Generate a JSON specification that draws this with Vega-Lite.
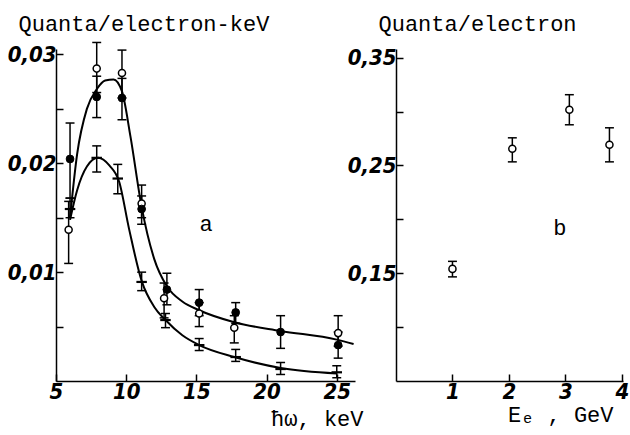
{
  "$schema": "https://vega.github.io/schema/vega-lite/v6.json",
  "background": "white",
  "padding": {"left": 7, "top": 12, "right": 5, "bottom": 40},
  "spacing": 41,
  "bounds": "flush",
  "datasets": {
    "curves": [
      {"curve": "upper", "x": 6.0, "y": 0.0150},
      {"curve": "upper", "x": 6.5, "y": 0.0208},
      {"curve": "upper", "x": 7.2, "y": 0.0250},
      {"curve": "upper", "x": 7.9, "y": 0.0268},
      {"curve": "upper", "x": 8.5, "y": 0.0276},
      {"curve": "upper", "x": 9.1, "y": 0.0277},
      {"curve": "upper", "x": 9.7, "y": 0.0266},
      {"curve": "upper", "x": 10.3, "y": 0.0225},
      {"curve": "upper", "x": 11.1, "y": 0.0160},
      {"curve": "upper", "x": 12.0, "y": 0.0112},
      {"curve": "upper", "x": 12.9, "y": 0.0087},
      {"curve": "upper", "x": 14.0, "y": 0.0073},
      {"curve": "upper", "x": 15.2, "y": 0.0065},
      {"curve": "upper", "x": 17.7, "y": 0.0054},
      {"curve": "upper", "x": 21.0, "y": 0.0046},
      {"curve": "upper", "x": 25.0, "y": 0.0038},
      {"curve": "upper", "x": 26.2, "y": 0.0034},
      {"curve": "lower", "x": 6.0, "y": 0.0148},
      {"curve": "lower", "x": 6.5, "y": 0.0175},
      {"curve": "lower", "x": 7.2, "y": 0.0197},
      {"curve": "lower", "x": 8.0, "y": 0.0205},
      {"curve": "lower", "x": 8.8, "y": 0.0198},
      {"curve": "lower", "x": 9.5, "y": 0.0183},
      {"curve": "lower", "x": 10.2, "y": 0.0140},
      {"curve": "lower", "x": 11.1, "y": 0.0092},
      {"curve": "lower", "x": 12.0, "y": 0.0068},
      {"curve": "lower", "x": 12.8, "y": 0.0056},
      {"curve": "lower", "x": 14.0, "y": 0.0042},
      {"curve": "lower", "x": 15.2, "y": 0.0033},
      {"curve": "lower", "x": 17.7, "y": 0.0022},
      {"curve": "lower", "x": 21.0, "y": 0.0012},
      {"curve": "lower", "x": 25.0, "y": 0.0007}
    ],
    "pointsA": [
      {"series": "filled", "x": 6.0, "y": 0.0204, "lo": 0.0168, "hi": 0.0237},
      {"series": "filled", "x": 7.9, "y": 0.0261, "lo": 0.0242, "hi": 0.0280},
      {"series": "filled", "x": 9.7, "y": 0.0260, "lo": 0.0240, "hi": 0.0278},
      {"series": "filled", "x": 11.1, "y": 0.0158, "lo": 0.0144, "hi": 0.0170},
      {"series": "filled", "x": 12.9, "y": 0.0084, "lo": 0.0070, "hi": 0.0099},
      {"series": "filled", "x": 15.2, "y": 0.0072, "lo": 0.0060, "hi": 0.0084},
      {"series": "filled", "x": 17.8, "y": 0.0063, "lo": 0.0053, "hi": 0.0072},
      {"series": "filled", "x": 21.0, "y": 0.0045, "lo": 0.0030, "hi": 0.0060},
      {"series": "filled", "x": 25.1, "y": 0.0033, "lo": 0.0021, "hi": 0.0045},
      {"series": "open", "x": 5.9, "y": 0.0139, "lo": 0.0108, "hi": 0.0165},
      {"series": "open", "x": 7.9, "y": 0.0287, "lo": 0.0265, "hi": 0.0311},
      {"series": "open", "x": 9.7, "y": 0.0283, "lo": 0.0260, "hi": 0.0304},
      {"series": "open", "x": 11.1, "y": 0.0163, "lo": 0.0150, "hi": 0.0180},
      {"series": "open", "x": 12.7, "y": 0.0076, "lo": 0.0058, "hi": 0.0090},
      {"series": "open", "x": 15.2, "y": 0.0062, "lo": 0.0050, "hi": 0.0072},
      {"series": "open", "x": 17.7, "y": 0.0049, "lo": 0.0035, "hi": 0.0060},
      {"series": "open", "x": 25.1, "y": 0.0044, "lo": 0.0032, "hi": 0.0060},
      {"series": "cross", "x": 6.0, "y": 0.0158, "lo": 0.0150, "hi": 0.0168},
      {"series": "cross", "x": 7.9, "y": 0.0205, "lo": 0.0192, "hi": 0.0216},
      {"series": "cross", "x": 9.4, "y": 0.0186, "lo": 0.0172, "hi": 0.0199},
      {"series": "cross", "x": 11.1, "y": 0.0091, "lo": 0.0083, "hi": 0.0100},
      {"series": "cross", "x": 12.8, "y": 0.0056, "lo": 0.0049, "hi": 0.0062},
      {"series": "cross", "x": 15.2, "y": 0.0033, "lo": 0.0028, "hi": 0.0039},
      {"series": "cross", "x": 17.8, "y": 0.0022, "lo": 0.0018, "hi": 0.0029},
      {"series": "cross", "x": 21.0, "y": 0.0011, "lo": 0.0006, "hi": 0.0017},
      {"series": "cross", "x": 25.0, "y": 0.0008, "lo": 0.0003, "hi": 0.0014}
    ],
    "pointsB": [
      {"x": 1.0, "y": 0.154, "lo": 0.1466, "hi": 0.161},
      {"x": 2.06, "y": 0.2654, "lo": 0.2533, "hi": 0.2756},
      {"x": 3.07, "y": 0.3016, "lo": 0.2877, "hi": 0.3156},
      {"x": 3.78, "y": 0.2691, "lo": 0.2533, "hi": 0.2849}
    ],
    "labelA": [{"x": 15.7, "y": 0.0144, "label": "a"}],
    "labelB": [{"x": 2.9, "y": 0.192, "label": "b"}]
  },
  "hconcat": [
    {
      "width": 299,
      "height": 332,
      "encoding": {
        "x": {"field": "x", "type": "quantitative", "scale": {"domain": [5, 26.3], "nice": false, "zero": false},
          "axis": {"values": [5, 10, 15, 20, 25], "format": "d", "title": "ħω, keV", "titleAngle": 0, "titleAlign": "right", "titleBaseline": "alphabetic", "titleX": 307, "titleY": 44}},
        "y": {"field": "y", "type": "quantitative", "scale": {"domain": [0, 0.0305], "nice": false, "zero": false},
          "axis": {"values": [0.005, 0.01, 0.015, 0.02, 0.025, 0.03], "labelExpr": "round(datum.value*1000) % 10 == 0 ? replace(format(datum.value, '.2f'), '.', ',') : ''", "title": "Quanta/electron-keV", "titleAngle": 0, "titleAlign": "left", "titleBaseline": "alphabetic", "titleX": -38, "titleY": -19}}
      },
      "layer": [
        {"data": {"name": "curves"}, "mark": {"type": "line", "interpolate": "monotone", "color": "black", "strokeWidth": 2}, "encoding": {"detail": {"field": "curve"}}},
        {"data": {"name": "pointsA"}, "mark": {"type": "rule", "color": "black", "strokeWidth": 1.5}, "encoding": {"y": {"field": "lo", "type": "quantitative"}, "y2": {"field": "hi"}}},
        {"data": {"name": "pointsA"}, "mark": {"type": "point", "shape": "M-1,0H1", "size": 80, "stroke": "black", "strokeWidth": 1.5, "opacity": 1}, "encoding": {"y": {"field": "lo", "type": "quantitative"}}},
        {"data": {"name": "pointsA"}, "mark": {"type": "point", "shape": "M-1,0H1", "size": 80, "stroke": "black", "strokeWidth": 1.5, "opacity": 1}, "encoding": {"y": {"field": "hi", "type": "quantitative"}}},
        {"data": {"name": "pointsA"}, "transform": [{"filter": "datum.series == 'cross'"}], "mark": {"type": "point", "shape": "M-1,0H1", "size": 110, "stroke": "black", "strokeWidth": 2.2, "opacity": 1}},
        {"data": {"name": "pointsA"}, "transform": [{"filter": "datum.series == 'open'"}], "mark": {"type": "point", "shape": "circle", "size": 50, "filled": true, "fill": "white", "stroke": "black", "strokeWidth": 1.5, "opacity": 1}},
        {"data": {"name": "pointsA"}, "transform": [{"filter": "datum.series == 'filled'"}], "mark": {"type": "point", "shape": "circle", "size": 60, "filled": true, "fill": "black", "stroke": "black", "strokeWidth": 1, "opacity": 1}},
        {"data": {"name": "labelA"}, "mark": {"type": "text", "font": "Liberation Mono", "fontSize": 22, "color": "black", "baseline": "middle", "align": "center"}, "encoding": {"text": {"field": "label"}}}
      ]
    },
    {
      "width": 227,
      "height": 332,
      "encoding": {
        "x": {"field": "x", "type": "quantitative", "scale": {"domain": [0, 4.02], "nice": false, "zero": false},
          "axis": {"values": [1, 2, 3, 4], "format": "d", "title": "Eₑ , GeV", "titleAngle": 0, "titleAlign": "right", "titleBaseline": "alphabetic", "titleX": 217, "titleY": 40}},
        "y": {"field": "y", "type": "quantitative", "scale": {"domain": [0.05, 0.358], "nice": false, "zero": false},
          "axis": {"values": [0.1, 0.15, 0.2, 0.25, 0.3, 0.35], "labelExpr": "round(datum.value*100) % 10 == 5 ? replace(format(datum.value, '.2f'), '.', ',') : ''", "title": "Quanta/electron", "titleAngle": 0, "titleAlign": "left", "titleBaseline": "alphabetic", "titleX": -18, "titleY": -19}}
      },
      "layer": [
        {"data": {"name": "pointsB"}, "mark": {"type": "rule", "color": "black", "strokeWidth": 1.5}, "encoding": {"y": {"field": "lo", "type": "quantitative"}, "y2": {"field": "hi"}}},
        {"data": {"name": "pointsB"}, "mark": {"type": "point", "shape": "M-1,0H1", "size": 80, "stroke": "black", "strokeWidth": 1.5, "opacity": 1}, "encoding": {"y": {"field": "lo", "type": "quantitative"}}},
        {"data": {"name": "pointsB"}, "mark": {"type": "point", "shape": "M-1,0H1", "size": 80, "stroke": "black", "strokeWidth": 1.5, "opacity": 1}, "encoding": {"y": {"field": "hi", "type": "quantitative"}}},
        {"data": {"name": "pointsB"}, "mark": {"type": "point", "shape": "circle", "size": 50, "filled": true, "fill": "white", "stroke": "black", "strokeWidth": 1.5, "opacity": 1}},
        {"data": {"name": "labelB"}, "mark": {"type": "text", "font": "Liberation Mono", "fontSize": 22, "color": "black", "baseline": "middle", "align": "center"}, "encoding": {"text": {"field": "label"}}}
      ]
    }
  ],
  "config": {
    "view": {"stroke": null},
    "axis": {
      "grid": false,
      "domainColor": "black",
      "domainWidth": 1.5,
      "tickColor": "black",
      "tickWidth": 1.5,
      "tickSize": -7,
      "labelPadding": 7,
      "labelFont": "Liberation Sans Narrow, DejaVu Sans Condensed, DejaVu Sans",
      "labelFontStyle": "italic",
      "labelFontWeight": "bold",
      "labelFontSize": 22,
      "labelColor": "black",
      "labelOverlap": false,
      "labelFlush": false,
      "titleFont": "Liberation Mono",
      "titleFontSize": 22,
      "titleFontWeight": "normal",
      "titleColor": "black"
    }
  }
}
